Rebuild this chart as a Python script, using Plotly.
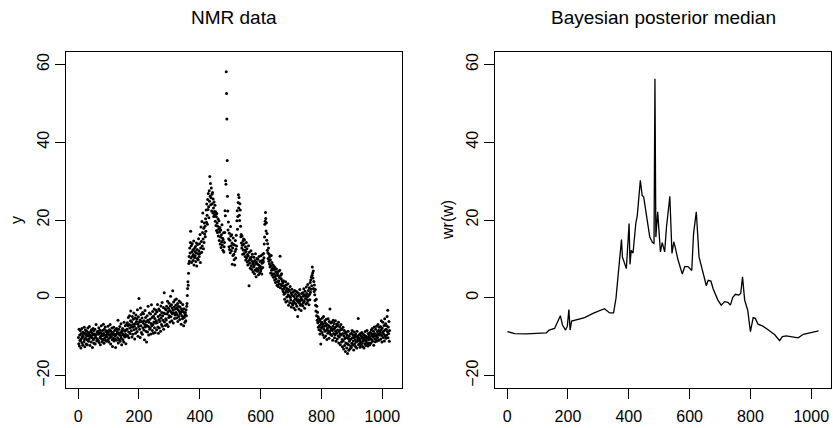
import plotly.graph_objects as go

# ---------------- data ----------------
nmr_y = [
 -10.2,-11.8,-8.1,-12.4,-9.6,-10.9,-8.4,-11.1,-12.9,-9.2,-10.5,-7.9,-11.6,-9.9,-12.2,-8.8,-10.1,-9.4,-11.3,-7.6,-10.7,-12.6,-9.1,-8.3,-10.4,-11.9,-9.7,-8.6,-10.8,-12.1,-9.3,-7.8,
 -9.8,-11.2,-8.9,-10.6,-7.4,-9.5,-12.3,-10.1,-8.7,-9.9,-11.4,-8.2,-10.3,-9.1,-12.8,-9.6,-7.9,-10.8,-8.5,-11.7,-9.3,-10.4,-8.1,-11.9,-9.7,-10.2,-6.9,-9.4,-11.1,-8.8,-10.6,-9.2,
 -8.6,-10.9,-9.4,-7.7,-11.5,-9.1,-8.3,-10.2,-12.1,-8.9,-9.8,-7.2,-10.6,-9.3,-11.3,-8.4,-9.7,-10.8,-6.8,-9.2,-11.7,-8.1,-10.4,-9.6,-7.5,-10.9,-8.7,-9.9,-11.2,-8.5,-10.1,-9.4,
 -9.1,-7.3,-10.7,-8.8,-11.4,-9.5,-8.2,-10.3,-6.9,-9.7,-11.9,-8.6,-10.1,-9.2,-7.8,-10.8,-12.5,-8.9,-9.6,-10.4,-7.6,-11.1,-9.3,-8.4,-10.6,-9.8,-12.8,-8.1,-9.5,-10.9,-7.9,-9.1,
 -8.7,-10.3,-5.8,-11.6,-9.2,-8.1,-10.7,-9.5,-7.4,-11.2,-8.9,-9.8,-6.7,-10.4,-12.1,-8.5,-9.1,-7.9,-10.8,-9.6,-8.2,-11.4,-6.3,-9.7,-10.1,-8.6,-7.2,-9.4,-11.8,-8.3,-6.9,-9.9,
 -8.1,-6.4,-9.7,-7.2,-5.1,-8.8,-10.3,-6.9,-4.6,-7.8,-9.2,-5.9,-3.4,-7.1,-8.5,-6.2,-10.1,-4.8,-7.6,-9.4,-5.5,-6.8,-3.9,-8.2,-7.3,-10.6,-5.2,-6.6,-9.1,-4.4,-7.9,-6.1,
 -5.4,-8.7,-3.1,-6.8,-9.9,-4.9,-7.4,-0.2,-6.3,-8.1,-5.7,-10.2,-2.6,-7.2,-4.3,-8.9,-6.1,-5.2,-9.4,-3.8,-7.7,-6.5,-4.1,-8.3,-5.9,-10.8,-6.9,-3.3,-7.5,-5.1,-8.6,-6.2,
 -11.4,-7.1,-4.6,-8.8,-5.8,-2.2,-7.4,-9.6,-6.3,-3.9,-8.1,-5.5,-7.8,-4.2,-9.3,-6.6,-1.8,-7.2,-5.1,-8.4,-3.5,-6.9,-9.1,-4.7,-6.2,-2.9,-7.7,-5.3,-8.9,-4.1,-6.5,-3.2,
 -5.9,-8.2,-3.6,-6.4,-1.7,-7.5,-4.8,-9.1,-2.9,-5.6,-7.8,-3.3,-6.1,-4.4,-8.6,-2.1,-5.2,-6.9,-3.8,-1.2,-7.3,-4.6,-5.8,-2.5,-8.1,-3.9,1.3,-6.2,-4.1,-2.8,-7.1,-5.4,
 -3.1,-5.7,-2.2,-6.8,-4.2,-0.9,-3.6,-7.4,-2.7,-5.1,-1.4,-4.6,-3.3,-6.2,-2.1,0.4,-4.9,-3.7,-1.8,-5.9,-2.6,-4.1,1.8,-3.2,-6.5,-1.1,-3.9,-2.4,-5.3,-0.6,-4.4,-2.9,
 -1.9,-3.8,-0.3,-5.2,-2.6,-4.3,-1.5,-6.1,-3.1,-2.2,-4.8,-0.8,-3.5,-5.6,-2.4,-4.1,-1.2,-3.7,-6.8,-2.9,-4.6,-3.3,-5.4,-1.7,-4.9,-3.6,-7.2,-2.8,-5.1,-3.9,-6.3,-4.4,
 -3.8,-5.9,-3.1,-4.6,-2.2,-1.5,0.6,2.4,4.1,3.2,6.3,8.8,10.6,9.4,12.8,11.5,14.2,17.1,10.2,13.4,9.1,11.8,13.9,10.7,12.3,9.6,11.1,14.6,8.4,12.7,10.3,11.9,
 10.8,13.2,9.3,11.6,14.1,8.2,12.4,10.1,13.7,11.3,9.8,15.2,12.1,10.6,13.9,11.4,16.3,9.1,12.8,18.2,14.5,11.7,19.6,13.3,16.8,21.8,15.1,12.6,17.9,14.2,19.2,16.4,
 18.4,15.7,20.3,17.1,22.6,19.4,24.1,21.2,18.9,25.3,22.7,26.8,23.4,20.6,27.5,24.8,31.2,26.1,29.4,23.9,25.7,28.2,22.3,26.6,24.2,27.1,21.8,25.4,23.1,20.9,24.6,22.2,
 21.4,23.8,19.7,22.1,18.6,20.9,17.3,21.7,19.2,16.8,18.4,20.3,15.9,17.6,19.8,14.7,16.9,18.1,13.8,15.6,17.4,12.9,16.2,14.4,18.8,13.6,15.3,12.2,14.9,16.7,11.8,13.1,
 14.2,16.8,22.4,21.1,30.1,29.2,58.1,52.5,46.0,35.3,26.1,22.3,17.4,19.5,15.2,13.1,16.6,12.4,14.8,11.6,18.3,15.9,13.4,12.1,16.2,14.1,8.6,12.8,10.9,15.4,13.7,11.2,
 9.8,13.6,8.4,11.9,14.7,10.2,12.5,16.1,13.3,19.8,22.4,17.6,20.9,24.5,26.5,23.1,25.8,21.2,19.9,24.2,22.6,18.4,15.7,16.3,14.1,12.8,15.9,13.5,11.2,14.6,12.3,15.1,
 13.8,11.4,14.9,12.2,10.6,13.1,9.7,11.9,14.2,10.3,12.6,9.2,11.1,8.4,10.8,13.4,9.6,3.1,11.7,8.9,10.2,7.6,9.9,12.1,8.2,10.5,7.3,9.4,11.2,8.7,6.6,9.1,
 7.9,10.4,8.3,6.2,9.6,7.1,11.3,8.8,5.4,9.2,7.5,10.1,6.8,8.6,9.9,7.2,5.9,8.4,10.6,7.7,6.4,9.3,8.1,6.9,10.8,7.4,9.5,6.1,8.9,11.1,7.8,9.7,
 9.2,11.4,10.3,13.8,15.6,18.9,19.7,21.9,20.4,17.2,19.3,14.8,16.5,12.2,13.9,11.6,10.1,12.8,9.4,11.2,8.7,10.6,7.9,9.8,6.4,8.3,10.9,7.1,9.1,5.8,7.6,6.2,
 8.4,5.3,7.2,8.1,6.1,4.6,7.8,5.5,3.9,6.7,4.8,7.4,5.9,3.2,6.3,4.1,5.7,2.9,6.8,4.4,3.6,5.2,7.1,10.7,2.6,5.8,3.4,4.9,6.2,3.1,4.3,2.2,
 3.8,1.6,4.4,2.3,0.9,3.1,-0.4,2.7,1.2,4.1,-1.1,1.9,3.3,0.2,2.4,-0.8,1.5,3.6,0.7,-1.9,2.1,0.4,1.8,-1.3,2.9,0.1,-0.6,1.3,-2.4,0.8,2.2,-1.5,
 0.6,-1.8,1.4,-0.9,-2.6,0.3,-1.2,1.9,-0.4,-3.1,0.9,-1.6,-0.2,1.6,-2.2,-0.7,0.4,-4.8,-1.1,1.2,-0.5,-2.9,0.7,-1.4,2.1,-0.8,-1.9,0.2,-3.3,-0.3,1.1,-1.7,
 -0.6,1.3,-2.1,0.4,-1.2,2.3,-0.9,0.8,-2.7,1.7,-0.2,0.5,-1.6,2.8,-0.4,1.1,-1.3,0.2,3.4,-0.7,1.9,0.6,-1.8,2.6,0.9,-0.5,3.9,1.4,4.6,2.2,5.3,3.1,
 5.8,7.9,6.4,5.1,6.9,2.4,4.2,1.6,3.3,0.8,-0.7,2.1,-1.9,-3.4,-0.4,-4.6,-2.2,-5.8,-3.7,-6.4,-4.9,-7.6,-5.3,-8.2,-6.1,-7.1,-9.3,-5.6,-8.4,-11.9,-6.8,-7.7,
 -6.3,-8.9,-5.2,-7.4,-9.6,-6.7,-4.8,-8.1,-10.2,-7.3,-5.9,-8.6,-6.4,-9.8,-7.1,-5.5,-8.3,-10.7,-6.9,-7.8,-9.1,-5.4,-8.5,-7.2,-10.4,-6.1,-8.8,-2.9,-7.6,-9.4,-6.5,-8.2,
 -7.9,-9.7,-6.2,-8.4,-10.9,-7.3,-5.8,-9.2,-8.1,-6.6,-10.3,-7.7,-9.5,-5.9,-8.6,-11.2,-7.4,-9.1,-6.8,-10.6,-8.3,-7.1,-9.8,-6.3,-11.6,-8.7,-10.1,-7.5,-9.3,-12.1,-8.2,-6.9,
 -9.6,-11.4,-8.1,-10.7,-12.6,-9.2,-7.6,-11.1,-13.2,-9.8,-8.4,-12.3,-10.5,-9.1,-13.8,-11.6,-8.8,-10.2,-12.9,-9.5,-11.8,-14.3,-10.4,-8.6,-12.1,-13.5,-9.9,-11.2,-10.8,-13.1,-9.3,-12.4,
 -10.6,-12.8,-9.1,-11.7,-8.4,-10.3,-12.2,-9.6,-11.1,-13.4,-10.2,-8.8,-11.9,-9.7,-10.8,-12.5,-9.3,-11.4,-10.1,-12.9,-8.6,-11.2,-9.9,-10.6,-5.3,-12.1,-10.4,-9.5,-11.8,-10.9,-12.7,-9.2,
 -11.3,-9.8,-12.2,-10.4,-8.9,-11.7,-10.1,-12.6,-9.4,-11.1,-10.7,-12.9,-9.6,-10.2,-11.8,-8.7,-10.9,-12.3,-9.9,-11.4,-10.5,-8.4,-11.9,-10.3,-12.4,-9.2,-10.8,-11.6,-9.7,-10.1,-12.1,-8.9,
 -10.4,-9.1,-11.6,-8.3,-10.8,-9.7,-7.9,-11.2,-9.4,-10.1,-8.6,-12.2,-9.8,-7.5,-10.6,-9.2,-11.3,-8.1,-9.9,-10.7,-7.3,-9.5,-11.1,-8.7,-10.2,-6.9,-9.3,-8.4,-10.9,-7.6,-9.6,-8.8,
 -9.1,-7.4,-10.6,-8.2,-5.9,-9.7,-11.4,-7.8,-8.9,-6.3,-10.2,-8.6,-9.4,-7.1,-11.1,-5.4,-8.3,-9.8,-6.7,-10.4,-8.1,-7.2,-9.6,-4.8,-8.7,-3.2,-10.3,-7.5,-9.2,-6.1,-11.2,-8.4,
]
nmr_x = list(range(1, len(nmr_y) + 1))

med_x = [1, 25, 63, 129, 138, 156, 175, 182, 192, 198, 203, 207, 212, 228, 255, 282,
         315, 320, 337, 350, 358, 376, 379, 392, 401, 404, 408, 414, 423, 428, 438, 444,
         449, 469, 478, 483, 486, 489, 495, 500, 504, 510, 518, 524, 535, 542, 548, 552,
         562, 576, 584, 595, 607, 613, 622, 631, 640, 646, 655, 661, 670, 677, 693, 704,
         715, 726, 734, 742, 751, 762, 768, 774, 781, 791, 800, 809, 816, 825, 841, 858,
         880, 896, 905, 918, 935, 957, 974, 990, 1024]
med_y = [-8.7, -9.2, -9.3, -9.0, -8.3, -7.9, -4.6, -7.0, -8.3, -7.3, -3.0, -8.3, -6.0, -5.7, -5.1, -4.0,
         -3.0, -2.8, -3.9, -3.9, -0.1, 15.0, 10.5, 7.5, 19.1, 8.6, 12.2, 11.5, 19.1, 21.2, 30.2, 26.3,
         25.9, 15.6, 14.2, 14.0, 56.3, 15.6, 22.1, 16.0, 11.8, 14.2, 11.8, 18.2, 26.1, 11.4, 14.4, 13.2,
         9.7, 6.1, 8.0, 8.0, 7.0, 16.5, 22.1, 10.5, 7.5, 6.25, 3.1, 4.5, 4.3, 2.4, -0.6, -1.9,
         -1.0, -1.2, -1.9, 0.1, 0.9, 0.7, 1.1, 5.4, -0.6, -3.2, -8.7, -5.1, -5.3, -6.8, -7.3, -8.2,
         -9.5, -11.0, -10.0, -9.8, -10.0, -10.3, -9.4, -9.1, -8.5]

x_ticks = [0, 200, 400, 600, 800, 1000]
y_ticks = [-20, 0, 20, 40, 60]
titles = ["NMR data", "Bayesian posterior median"]
ylabels = ["y", "wr(w)"]

# ---------------- figure ----------------
W, H = 833, 428
FONT = "Liberation Sans, Arial, Helvetica, sans-serif"

fig = go.Figure()
fig.add_trace(go.Scatter(x=nmr_x, y=nmr_y, mode="markers",
                         marker=dict(color="black", size=3.0, line=dict(width=0)),
                         xaxis="x", yaxis="y", showlegend=False, hoverinfo="skip"))
fig.add_trace(go.Scatter(x=med_x, y=med_y, mode="lines",
                         line=dict(color="black", width=1.3),
                         xaxis="x2", yaxis="y2", showlegend=False, hoverinfo="skip"))

def px(v): return v / W
def py(v): return 1 - v / H

xr = [1 - 0.04 * 1023, 1024 + 0.04 * 1023]
yr = [-23.2, 63.2]
common = dict(showline=True, mirror=True, linecolor="black", linewidth=1,
              ticks="outside", ticklen=10, tickwidth=1, tickcolor="black",
              showgrid=False, zeroline=False, automargin=False,
              tickfont=dict(family=FONT, size=16, color="black"))

fig.update_layout(
    width=W, height=H, margin=dict(l=0, r=0, t=0, b=0, pad=0, autoexpand=False),
    paper_bgcolor="white", plot_bgcolor="white",
    xaxis=dict(domain=[px(66), px(402)], range=xr, tickvals=x_ticks, anchor="y",
               ticklabelstandoff=4, **common),
    yaxis=dict(domain=[py(388), py(52)], range=yr, tickvals=y_ticks, tickangle=-90, anchor="x",
               ticklabelstandoff=0, **common),
    xaxis2=dict(domain=[px(495), px(831)], range=xr, tickvals=x_ticks, anchor="y2",
                ticklabelstandoff=4, **common),
    yaxis2=dict(domain=[py(388), py(52)], range=yr, tickvals=y_ticks, tickangle=-90, anchor="x2",
                ticklabelstandoff=0, **common),
)

for cx, t in zip([234, 663], titles):
    fig.add_annotation(x=px(cx), y=py(18), xref="paper", yref="paper", text=t,
                       showarrow=False, xanchor="center", yanchor="middle",
                       font=dict(family=FONT, size=19, color="black"))
for cx, t in zip([17, 448], ylabels):
    fig.add_annotation(x=px(cx), y=py(220), xref="paper", yref="paper", text=t,
                       showarrow=False, xanchor="center", yanchor="middle", textangle=-90,
                       font=dict(family=FONT, size=16, color="black"))

fig.write_html("out.html", config={"displayModeBar": False, "staticPlot": True},
               post_script="document.body.style.margin='0';document.body.style.overflow='hidden';")
